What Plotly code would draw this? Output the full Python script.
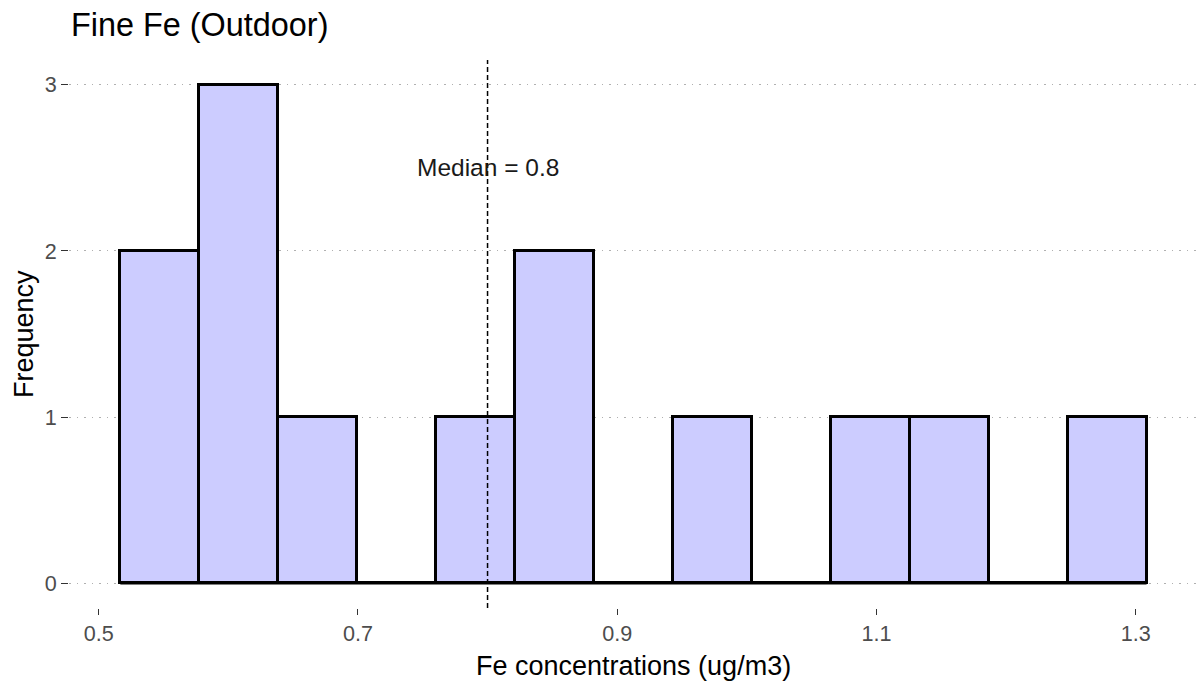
import plotly.graph_objects as go

# Histogram of fine Fe outdoor concentrations
bin_start = 0.5167     # left edge of the first bin (ug/m3)
bin_width = 0.0609     # bin width (ug/m3)
counts = [2, 3, 1, 0, 1, 2, 0, 1, 0, 1, 1, 0, 1]
median_value = 0.8

x_ticks = [0.5, 0.7, 0.9, 1.1, 1.3]
x_tick_labels = ["0.5", "0.7", "0.9", "1.1", "1.3"]
y_ticks = [0, 1, 2, 3]
y_tick_labels = ["0", "1", "2", "3"]

FONT = "Liberation Sans, Arial, sans-serif"
W, H = 1198, 686
ML, MR, MT, MB = 69, 0, 60, 78
plot_w = W - ML - MR
plot_h = H - MT - MB

centers = [bin_start + bin_width * (i + 0.5) for i in range(len(counts))]
bin_end = bin_start + bin_width * len(counts)


def py_to_paper(py):
    return (H - MB - py) / plot_h


def px_to_paper(px):
    return (px - ML) / plot_w


fig = go.Figure()

fig.add_trace(go.Bar(
    x=centers,
    y=counts,
    width=bin_width,
    marker=dict(color="#CCCCFF", line=dict(color="black", width=3)),
    hoverinfo="x+y",
    showlegend=False,
))

# bottom outline of every bin, including the empty ones
fig.add_trace(go.Scatter(
    x=[bin_start, bin_end],
    y=[0, 0],
    mode="lines",
    line=dict(color="black", width=3),
    hoverinfo="skip",
    showlegend=False,
))

# median reference line
fig.add_shape(
    type="line",
    xref="x", yref="paper",
    x0=median_value, x1=median_value, y0=0, y1=1,
    line=dict(color="black", width=1.5, dash="5px,3px"),
    layer="above",
)

fig.add_annotation(
    x=median_value, y=2.5, xref="x", yref="y",
    text=f"Median = {median_value}",
    showarrow=False,
    font=dict(family=FONT, size=24.5, color="#1a1a1a"),
    xanchor="center", yanchor="middle",
)

# title and axis titles
fig.add_annotation(
    x=0, y=py_to_paper(25), xref="paper", yref="paper",
    text="Fine Fe (Outdoor)",
    showarrow=False,
    font=dict(family=FONT, size=32.4, color="black"),
    xanchor="left", yanchor="middle",
)
fig.add_annotation(
    x=0.5, y=py_to_paper(666), xref="paper", yref="paper",
    text="Fe concentrations (ug/m3)",
    showarrow=False,
    font=dict(family=FONT, size=27, color="black"),
    xanchor="center", yanchor="middle",
)
fig.add_annotation(
    x=px_to_paper(24), y=0.5, xref="paper", yref="paper",
    text="Frequency",
    textangle=-90,
    showarrow=False,
    font=dict(family=FONT, size=27, color="black"),
    xanchor="center", yanchor="middle",
)

fig.update_layout(
    width=W, height=H,
    margin=dict(l=ML, r=MR, t=MT, b=MB, pad=0),
    paper_bgcolor="white",
    plot_bgcolor="white",
    bargap=0,
    font=dict(family=FONT),
    xaxis=dict(
        range=[0.4771, 1.3481],
        tickmode="array", tickvals=x_ticks, ticktext=x_tick_labels,
        ticks="outside", ticklen=6, tickwidth=1, tickcolor="#333333",
        tickfont=dict(family=FONT, size=21.6, color="#4d4d4d"),
        showgrid=False, zeroline=False, showline=False,
        fixedrange=True,
    ),
    yaxis=dict(
        range=[-0.15, 3.15],
        tickmode="array", tickvals=y_ticks, ticktext=y_tick_labels,
        ticks="outside", ticklen=7, tickwidth=1.2, tickcolor="#333333",
        tickfont=dict(family=FONT, size=21.6, color="#4d4d4d"),
        showgrid=True, gridcolor="#b0b0b0", gridwidth=1.2, griddash="1.5px,6px",
        zeroline=False, showline=False,
        fixedrange=True,
    ),
)

fig.write_html("out.html")
